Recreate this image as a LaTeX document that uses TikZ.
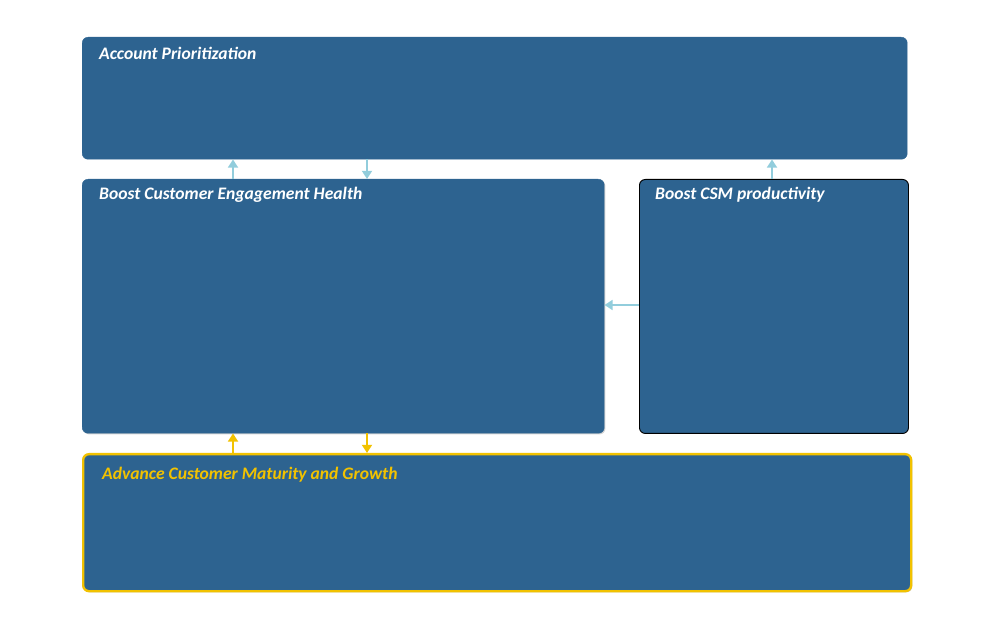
\documentclass[tikz,border=0pt]{standalone}
\usepackage{fontspec}
\setmainfont{Carlito}
\usetikzlibrary{positioning, arrows.meta, shadows}

\definecolor{boxblue}{HTML}{2D6390}
\definecolor{linkblue}{HTML}{92CDDC}
\definecolor{gold}{HTML}{F2C200}

\tikzset{
  panel/.style={rectangle, rounded corners=5pt, fill=boxblue, draw=boxblue, anchor=north west, inner sep=0pt},
  title/.style={anchor=base west, font=\fontsize{15}{18}\selectfont\bfseries\itshape, text=white, inner sep=0pt},
  link/.style={draw=linkblue, line width=1.7pt, -{Triangle[length=7pt,width=8.5pt]}},
  goldlink/.style={draw=gold, line width=1.7pt, -{Triangle[length=7pt,width=8.5pt]}}
}

\begin{document}
\begin{tikzpicture}[x=0.03cm, y=-0.03cm]
          \useasboundingbox (0,0) rectangle (995,625);

          \node[panel, minimum width=825*0.03cm, minimum height=122*0.03cm] (account) at (82,37) {};
          \node[panel, minimum width=522*0.03cm, minimum height=254*0.03cm,
                drop shadow={opacity=0.35, shadow xshift=1pt, shadow yshift=-1pt}] (engage) at (82,179) {};
          \node[panel, draw=black, line width=0.8pt, minimum width=269*0.03cm, minimum height=254*0.03cm] (csm) at (639,179) {};
          \node[panel, draw=gold, line width=2pt, minimum width=828*0.03cm, minimum height=137*0.03cm,
                drop shadow={opacity=0.35, shadow xshift=1pt, shadow yshift=-1pt}] (advance) at (82,453) {};

          \node[title] (accountT) at (99,59.5) {Account Prioritization};
          \node[title] (engageT) at (99,199.5) {Boost Customer Engagement Health};
          \node[title] (csmT) at (655,199.5) {Boost CSM productivity};
          \node[title, text=gold] (advanceT) at (102,479.5) {Advance Customer Maturity and Growth};

          \coordinate (left) at (233,0);
          \coordinate (right) at (367,0);
          \coordinate (far) at (772,0);
          \coordinate (mid) at (0,305);

          \draw[link] (engage.north -| left) -- (account.south -| left);
          \draw[link] (account.south -| right) -- (engage.north -| right);
          \draw[link] (csm.north -| far) -- (account.south -| far);
          \draw[link] (csm.west |- mid) -- (engage.east |- mid);

          \draw[goldlink] (advance.north -| left) -- (engage.south -| left);
          \draw[goldlink] (engage.south -| right) -- (advance.north -| right);
        \end{tikzpicture}
\end{document}
